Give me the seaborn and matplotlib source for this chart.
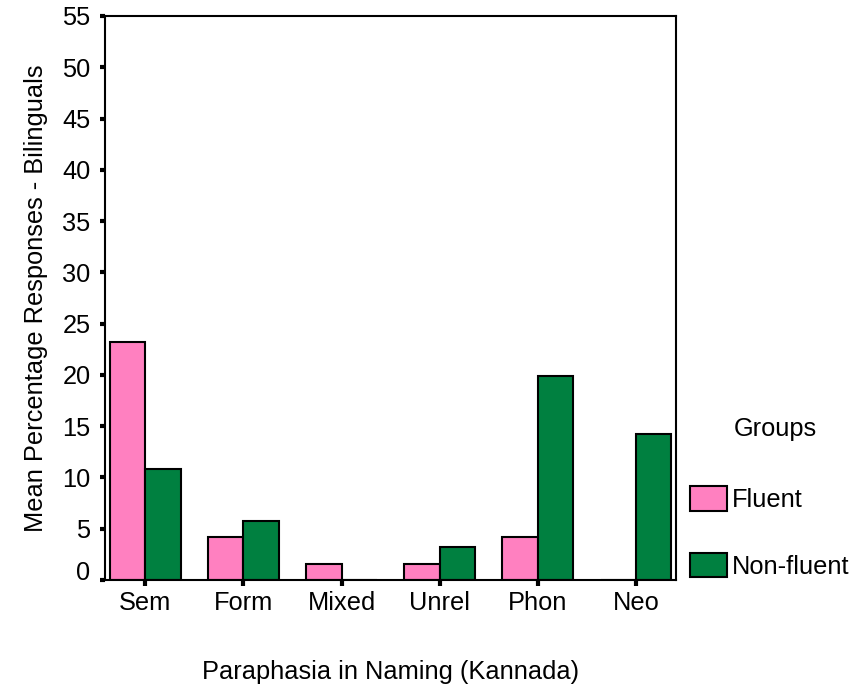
import matplotlib.pyplot as plt
import pandas as pd
import seaborn as sns
from matplotlib.patches import Patch
from matplotlib.transforms import ScaledTranslation

categories = ["Sem", "Form", "Mixed", "Unrel", "Phon", "Neo"]
groups = ["Fluent", "Non-fluent"]
fluent = [23.2, 4.2, 1.6, 1.6, 4.2, 0.0]
non_fluent = [10.8, 5.8, 0.0, 3.2, 19.9, 14.2]
colors = ["#FF80C0", "#008040"]

df = pd.DataFrame({
    "category": categories * 2,
    "group": [groups[0]] * len(categories) + [groups[1]] * len(categories),
    "value": fluent + non_fluent,
})

sns.set_theme(style="white")
plt.rcParams['font.family'] = ['Liberation Sans', 'DejaVu Sans']
plt.rcParams['text.color'] = 'black'
plt.rcParams['xtick.color'] = 'black'
plt.rcParams['ytick.color'] = 'black'
plt.rcParams['axes.labelcolor'] = 'black'
fs = 18.3

fig = plt.figure(figsize=(8.57, 6.92), dpi=100)
ax = fig.add_axes([0.1225, 0.1618, 0.6665, 0.8151])

sns.barplot(data=df, x="category", y="value", hue="group", order=categories,
            hue_order=groups, palette=colors, saturation=1, width=0.72, gap=0,
            edgecolor="black", linewidth=1.5, ax=ax, legend=False)

ax.set_xlim(-0.41, 5.41)
ax.set_ylim(0, 55)
ax.set_yticks(range(0, 56, 5))

for s in ax.spines.values():
    s.set_color("black")
    s.set_linewidth(1.5)
    s.set_visible(True)

ax.tick_params(axis="y", left=True, direction="out", length=3.5, width=3,
               labelsize=fs, pad=7)
ax.tick_params(axis="x", bottom=True, direction="out", length=4, width=3,
               labelsize=fs, pad=4)

# the zero label sits a bit above its tick in the original
zero = ax.get_yticklabels()[0]
zero.set_transform(zero.get_transform() + ScaledTranslation(0, 0.10, fig.dpi_scale_trans))

ax.set_xlabel("Paraphasia in Naming (Kannada)", fontsize=fs)
ax.set_ylabel("Mean Percentage Responses - Bilinguals", fontsize=fs)
ax.xaxis.set_label_coords(0.5, -0.142)
ax.yaxis.set_label_coords(-0.1, 0.5)

handles = [Patch(facecolor=c, edgecolor="black", linewidth=1.5) for c in colors]
fig.legend(handles, groups, loc="upper left", bbox_to_anchor=(0.805, 0.2977),
           frameon=False, borderpad=0, borderaxespad=0, handlelength=1.45,
           handleheight=1.12, handletextpad=0.2, labelspacing=1.6, fontsize=fs)
fig.text(775 / 857, 1 - 429 / 692, "Groups", ha="center", va="center", fontsize=fs)

plt.savefig("out.png", dpi=100)
plt.close()
